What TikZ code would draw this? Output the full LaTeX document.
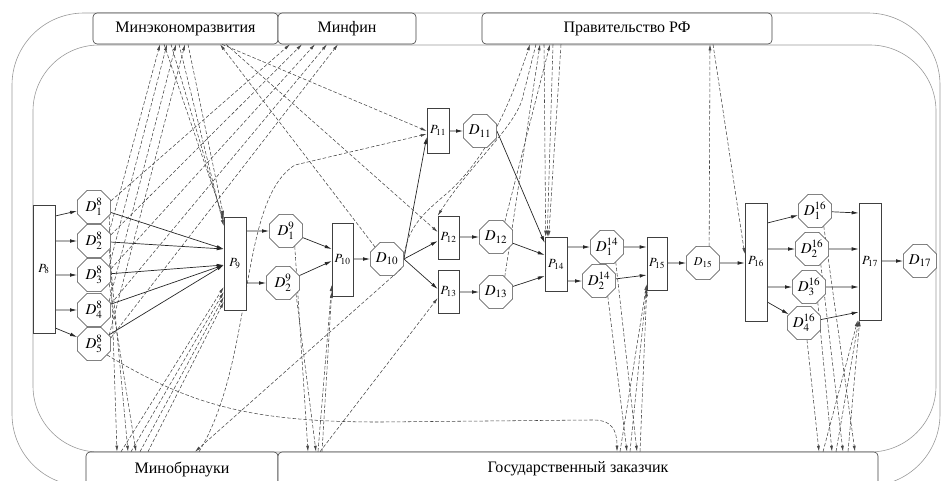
\documentclass[tikz,border=0pt]{standalone}
\usepackage{mathptmx}
\usepackage{fontspec}
\setmainfont{Liberation Serif}
\newfontfamily\orgfont{Liberation Serif}
\usetikzlibrary{shapes.geometric,arrows.meta,backgrounds}
\begin{document}
\begin{tikzpicture}[x=1pt,y=-1pt,
  frame/.style={draw=black!40, line width=0.6pt},
  org/.style={draw=black!75, fill=white, rounded corners=4pt, line width=0.6pt, inner sep=0pt, font=\orgfont\fontsize{16}{18}\selectfont},
  proc/.style={draw=black!75, fill=white, line width=0.6pt, inner sep=0pt, minimum width=22pt, font=\fontsize{12.5}{14}\selectfont},
  oct/.style={regular polygon, regular polygon sides=8, draw=black!75, fill=white, line width=0.6pt, inner sep=0pt, minimum size=36pt, font=\fontsize{15}{17}\selectfont},
  flow/.style={draw=black!85, line width=0.7pt, -{Latex[length=7pt,width=3.6pt]}},
  info/.style={draw=black!72, line width=0.55pt, dash pattern=on 3.5pt off 2pt, -{Latex[length=6pt,width=3pt]}}
]
\useasboundingbox (0,0) rectangle (942,480);
\clip (0,0) rectangle (942,480);

% organisations
\node[org, minimum width=185pt, minimum height=31pt] (ME) at (185.5,28.5) {Минэкономразвития};
\node[org, minimum width=138pt, minimum height=31pt] (MF) at (347,28.5) {Минфин};
\node[org, minimum width=290pt, minimum height=31pt] (PR) at (627,28.5) {Правительство РФ};
\node[org, minimum width=192pt, minimum height=34pt] (MO) at (182,469) {Минобрнауки};
\node[org, minimum width=600pt, minimum height=34pt] (GZ) at (578,469) {Государственный заказчик};

% processes
\node[proc, minimum height=128pt] (P8) at (44,269) {$P_{8}$};
\node[proc, minimum height=93pt] (P9) at (235,263.5) {$P_{9}$};
\node[proc, minimum width=21pt, minimum height=73pt] (P10) at (342.5,259.5) {$P_{10}$};
\node[proc, minimum height=45pt] (P11) at (438,130.5) {$P_{11}$};
\node[proc, minimum width=21pt, minimum height=43pt] (P12) at (448.5,237.5) {$P_{12}$};
\node[proc, minimum width=21pt, minimum height=43pt] (P13) at (448.5,291.5) {$P_{13}$};
\node[proc, minimum height=54pt] (P14) at (556,264) {$P_{14}$};
\node[proc, minimum width=20pt, minimum height=53pt] (P15) at (657,263.5) {$P_{15}$};
\node[proc, minimum height=118pt] (P16) at (756,262) {$P_{16}$};
\node[proc, minimum height=117pt] (P17) at (870,261.5) {$P_{17}$};

% documents
\node[oct] (D81) at (94,207) {$D^{8}_{1}$};
\node[oct] (D82) at (94,241) {$D^{8}_{2}$};
\node[oct] (D83) at (94,275) {$D^{8}_{3}$};
\node[oct] (D84) at (94,310) {$D^{8}_{4}$};
\node[oct] (D85) at (94,344) {$D^{8}_{5}$};
\node[oct] (D91) at (286,231) {$D^{9}_{1}$};
\node[oct] (D92) at (283,283) {$D^{9}_{2}$};
\node[oct] (D10) at (387,259) {$D_{10}$};
\node[oct] (D11) at (480,131) {$D_{11}$};
\node[oct] (D12) at (496,237) {$D_{12}$};
\node[oct] (D13) at (496,292) {$D_{13}$};
\node[oct] (D141) at (607,247) {$D^{14}_{1}$};
\node[oct] (D142) at (599,281) {$D^{14}_{2}$};
\node[oct, font=\fontsize{12}{14}\selectfont] (D15) at (703,263) {$D_{15}$};
\node[oct] (D161) at (815,211) {$D^{16}_{1}$};
\node[oct] (D162) at (812,249) {$D^{16}_{2}$};
\node[oct] (D163) at (809,287) {$D^{16}_{3}$};
\node[oct] (D164) at (804,323) {$D^{16}_{4}$};
\node[oct] (D17) at (920,261) {$D_{17}$};

\begin{pgfonlayer}{background}
\draw[frame, rounded corners=72pt] (12,13) rectangle (940,486);
\draw[frame, rounded corners=66pt] (33,45) rectangle (936,452);

% material flow
\draw[flow] (P8.east |- 0,216) -- (D81);
\draw[flow] (P8.east |- D82) -- (D82);
\draw[flow] (P8.east |- D83) -- (D83);
\draw[flow] (P8.east |- D84) -- (D84);
\draw[flow] (P8.east |- 0,328) -- (D85);
\draw[flow] (D81) -- (P9.west |- 0,249);
\draw[flow] (D82) -- (P9.west |- 0,249);
\draw[flow] (D83) -- (P9.west |- 0,265);
\draw[flow] (D84) -- (P9.west |- 0,265);
\draw[flow] (D85) -- (P9.west |- 0,265);
\draw[flow] (P9.east |- D91) -- (D91);
\draw[flow] (P9.east |- D92) -- (D92);
\draw[flow] (D91) -- (P10.west |- 0,249);
\draw[flow] (D92) -- (P10.west |- 0,261);
\draw[flow] (P10.east |- D10) -- (D10);
\draw[flow] (D10.east) -- (P11.west |- 0,137);
\draw[flow] (D10.east) -- (P12.west |- 0,241);
\draw[flow] (D10.east) -- (P13.west |- 0,289);
\draw[flow] (P11.east |- D11) -- (D11);
\draw[flow] (P12.east |- D12) -- (D12);
\draw[flow] (P13.east |- D13) -- (D13);
\draw[flow] (D11.east) -- (P14.west |- 0,243);
\draw[flow] (D12) -- (P14.west |- 0,255);
\draw[flow] (D13) -- (P14.west |- 0,276);
\draw[flow] (P14.east |- D141) -- (D141);
\draw[flow] (P14.east |- D142) -- (D142);
\draw[flow] (D141) -- (P15.west |- D141);
\draw[flow] (D142) -- (P15.west |- 0,275);
\draw[flow] (P15.east |- D15) -- (D15);
\draw[flow] (D15) -- (P16.west |- D15);
\draw[flow] (P16.east |- 0,223) -- (D161);
\draw[flow] (P16.east |- D162) -- (D162);
\draw[flow] (P16.east |- D163) -- (D163);
\draw[flow] (P16.east |- 0,302) -- (D164);
\draw[flow] (D161) -- (P17.west |- 0,213);
\draw[flow] (D162) -- (P17.west |- D162);
\draw[flow] (D163) -- (P17.west |- D163);
\draw[flow] (D164) -- (P17.west |- 0,312);
\draw[flow] (P17.east |- D17) -- (D17);

% information flow: left part
\draw[info] (D82.30) -- (160,0 |- ME.south);
\draw[info] (D83.30) -- (167,0 |- ME.south);
\draw[info] (D84.30) -- (176,0 |- ME.south);
\draw[info] (D85.30) -- (185,0 |- ME.south);
\draw[info] (164,0 |- ME.south) -- (P9.west |- 0,219);
\draw[info] (171,0 |- ME.south) -- (P9.west |- 0,222);
\draw[info] (179,0 |- ME.south) -- (P9.west |- 0,226);
\draw[info] (188,0 |- ME.south) -- (P9.north west);
\draw[info] (D81.20) -- (290,0 |- MF.south);
\draw[info] (D82.20) -- (302,0 |- MF.south);
\draw[info] (D83.20) -- (315,0 |- MF.south);
\draw[info] (D84.20) -- (327,0 |- MF.south);
\draw[info] (D85.20) -- (338,0 |- MF.south);
\draw[info] (D81.-30) -- (117,0 |- MO.north);
\draw[info] (D82.-30) -- (128,0 |- MO.north);
\draw[info] (D83.-30) -- (136,0 |- MO.north);
\draw[info] (121,0 |- MO.north) -- (P9.west |- 0,287);
\draw[info] (131,0 |- MO.north) -- (P9.west |- 0,292);
\draw[info] (140,0 |- MO.north) -- (P9.west |- 0,297);
\draw[info] (148,0 |- MO.north) -- (P9.west |- 0,302);
\draw[info] (D85.-40) .. controls (190,405) and (250,422) .. (380,422) -- (590,420) .. controls (612,419) and (617,430) .. (617,0 |- GZ.north);

% middle part
\draw[info] (D10.north west) -- (220,0 |- ME.south);
\draw[info] (222,0 |- ME.south) -- (P11.west |- 0,131);
\draw[info] (226,0 |- ME.south) -- (P12.west |- 0,232);
\draw[info] (199,0 |- MO.north) .. controls (255,360) and (238,200) .. (295,165) -- (P11.west |- 0,134);
\draw[info] (D10.-35) -- (195,0 |- MO.north);
\draw[info] (D91.-60) -- (308,0 |- GZ.north);
\draw[info] (D92.-40) -- (316,0 |- GZ.north);
\draw[info] (318,0 |- GZ.north) -- (P10.west |- 0,285);
\draw[info] (322,0 |- GZ.north) -- (P10.west |- 0,292);
\draw[info] (320,0 |- GZ.north) -- (P13.west |- 0,298);
\draw[info] (D10.east) .. controls (406,228) and (425,212) .. (445,195) .. controls (480,165) and (505,120) .. (530,0 |- PR.south);
\draw[info] (536,0 |- PR.south) -- (522,100) .. controls (512,130) and (470,165) .. (P12.north west);
\draw[info] (D13.60) -- (540,0 |- PR.south);
\draw[info] (D12.60) -- (550,0 |- PR.south);
\draw[info] (544,0 |- PR.south) -- ([xshift=1pt]P14.north west);
\draw[info] (553,0 |- PR.south) -- ([xshift=2.5pt]P14.north west);
\draw[info] (561,0 |- PR.south) -- ([xshift=4pt]P14.north west);

% right part
\draw[info] (D15.70) -- (710,0 |- PR.south);
\draw[info] (713,0 |- PR.south) -- (P16.west |- 0,254);
\draw[info] (D141.-60) -- (637,0 |- GZ.north);
\draw[info] (D142.-60) -- (627,0 |- GZ.north);
\draw[info] (620,0 |- GZ.north) -- (P15.west |- 0,284);
\draw[info] (630,0 |- GZ.north) -- (P15.west |- 0,287);
\draw[info] (640,0 |- GZ.north) -- (P15.south west);
\draw[info] (D161.-60) -- (855,0 |- GZ.north);
\draw[info] (D162.-60) -- (843,0 |- GZ.north);
\draw[info] (D163.-60) -- (832,0 |- GZ.north);
\draw[info] (D164.-80) -- (819,0 |- GZ.north);
\draw[info] (823,0 |- GZ.north) -- ([xshift=-1pt]P17.south west);
\draw[info] (836,0 |- GZ.north) -- (P17.south west);
\draw[info] (848,0 |- GZ.north) -- ([xshift=1pt]P17.south west);
\end{pgfonlayer}
\end{tikzpicture}
\end{document}
